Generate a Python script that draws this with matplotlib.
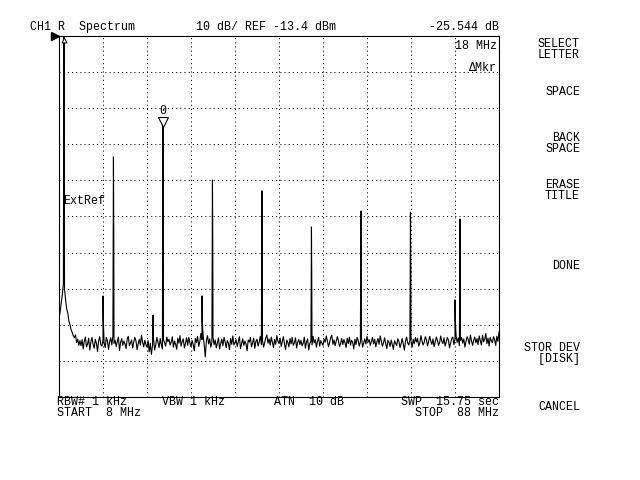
import numpy as np
import matplotlib.pyplot as plt

# sweep 8 - 88 MHz, trace floor (dBm), 0.2 MHz per point
floor_dbm = [
    -91.5, -89.8, -87.5, -85.0, -82.0, -83.5, -86.5, -89.0, -90.2, -92.3,
    -93.4, -94.8, -95.5, -96.4, -97.0, -96.2, -98.3, -97.4, -99.1, -97.8,
    -99.2, -97.5, -100.1, -98.0, -96.8, -99.5, -98.7, -97.1, -100.4, -98.2,
    -96.9, -98.8, -99.9, -97.4, -98.5, -100.8, -97.9, -96.7, -98.9, -99.3,
    -97.6, -98.4, -99.7, -96.9, -97.8, -100.2, -98.1, -97.0, -99.0, -96.5,
    -98.6, -97.7, -99.4, -98.0, -96.8, -100.5, -98.3, -97.2, -99.1, -97.9,
    -98.7, -100.0, -97.3, -96.6, -99.2, -98.4, -97.6, -99.8, -98.1, -96.9,
    -97.9, -100.3, -98.6, -97.4, -99.0, -96.3, -98.2, -99.5, -97.7, -98.9,
    -99.6, -97.8, -100.9, -98.5, -101.6, -99.2, -97.5, -100.4, -98.8, -96.9,
    -98.3, -99.7, -97.2, -98.9, -100.1, -97.6, -98.4, -99.3, -96.8, -98.1,
    -97.4, -99.0, -98.2, -96.7, -99.6, -97.9, -98.8, -100.2, -97.1, -98.5,
    -96.4, -99.3, -98.0, -97.3, -99.8, -98.6, -97.0, -99.1, -96.9, -98.4,
    -99.5, -97.7, -98.9, -100.6, -97.2, -98.3, -96.6, -99.4, -98.1, -95.8,
    -97.5, -96.2, -99.0, -102.3, -97.8, -96.4, -98.7, -97.3, -99.6, -98.2,
    -96.8, -98.9, -97.6, -99.8, -98.4, -97.0, -100.1, -98.6, -97.4, -99.2,
    -96.9, -98.1, -99.7, -97.8, -98.5, -100.3, -97.2, -98.8, -96.5, -99.0,
    -98.3, -97.5, -99.4, -98.0, -96.7, -100.0, -98.6, -97.3, -99.1, -97.9,
    -98.7, -100.6, -97.6, -98.2, -96.9, -99.5, -98.4, -97.1, -99.9, -98.0,
    -97.4, -99.3, -98.1, -96.6, -98.9, -97.8, -99.6, -98.3, -97.0, -96.2,
    -98.5, -97.3, -99.0, -96.8, -98.2, -99.7, -97.5, -98.8, -96.4, -97.9,
    -98.6, -97.1, -99.4, -98.0, -96.7, -98.9, -100.2, -97.6, -98.3, -99.5,
    -97.2, -98.7, -96.9, -99.1, -98.4, -97.0, -99.8, -98.2, -97.5, -98.9,
    -97.7, -99.2, -98.5, -96.8, -99.9, -98.1, -97.3, -100.4, -98.6, -97.9,
    -99.0, -96.6, -98.4, -97.5, -99.6, -98.0, -96.9, -99.3, -97.8, -98.5,
    -99.1, -97.4, -98.2, -96.5, -97.9, -99.5, -98.3, -97.0, -96.3, -98.8,
    -97.6, -99.2, -98.0, -96.7, -97.8, -99.4, -98.6, -97.2, -98.9, -97.5,
    -98.4, -99.7, -97.1, -98.6, -96.8, -99.0, -97.7, -98.3, -100.1, -97.4,
    -98.9, -96.9, -97.8, -99.3, -98.1, -97.0, -99.6, -98.5, -97.3, -98.7,
    -96.6, -98.2, -97.5, -99.1, -98.0, -96.9, -98.7, -97.4, -99.5, -98.1,
    -97.2, -98.8, -96.5, -97.9, -99.3, -98.4, -97.0, -98.6, -100.0, -97.7,
    -98.3, -99.4, -97.6, -98.9, -100.2, -97.8, -98.5, -99.1, -97.3, -98.0,
    -99.7, -98.6, -97.2, -98.8, -100.4, -97.9, -96.8, -98.4, -99.0, -97.5,
    -98.1, -99.6, -97.4, -98.7, -96.9, -98.2, -97.1, -99.3, -98.5, -96.4,
    -97.8, -99.0, -98.3, -96.7, -97.5, -99.2, -98.0, -96.6, -97.9, -98.8,
    -97.3, -99.5, -98.1, -96.8, -97.7, -99.1, -98.4, -96.5, -97.9, -98.6,
    -97.0, -99.3, -98.2, -96.9, -97.6, -99.8, -98.5, -97.2, -96.8, -98.9,
    -97.4, -96.6, -98.3, -97.0, -99.2, -97.8, -96.9, -98.5, -97.3, -99.6,
    -98.0, -96.7, -97.5, -98.8, -96.2, -97.9, -99.1, -97.6, -96.8, -98.4,
    -97.2, -98.9, -96.5, -97.7, -99.0, -96.3, -98.1, -97.4, -95.8, -98.6,
    -97.1, -99.3, -96.9, -97.8, -98.4, -96.7, -97.5, -99.1, -96.6, -98.0,
    -95.4,
]

# 9 MHz comb: peak level plus the two points either side of it
pk_freq = np.array([8.9, 17.9, 26.9, 35.9, 44.9, 53.9, 62.9, 71.9, 80.9])
pk_level = np.array([-12.8, -46.9, -38.3, -53.3, -56.3, -66.3, -61.9, -62.2, -64.1])
pk_left = np.array([-46.9, -78.0, -67.7, -80.0, -76.8, -88.0, -85.0, -86.0, -87.0])
pk_right = np.array([-38.6, -69.1, -59.1, -71.6, -74.3, -82.4, -77.9, -77.7, -79.9])

# small spurs
sp_freq = np.array([16.0, 25.1, 34.0, 80.0])
sp_level = np.array([-85.4, -90.7, -85.4, -86.5])
sp_shoulder = np.array([-92.0, -96.0, -92.5, -92.1])

ref_dbm = -13.4
mkr_freq = 26.9

freq = np.linspace(8, 88, len(floor_dbm))
f_all = np.concatenate([freq, pk_freq - 0.06, pk_freq, pk_freq + 0.06, sp_freq, sp_freq + 0.05])
l_all = np.concatenate([floor_dbm, pk_left, pk_level, pk_right, sp_level, sp_shoulder])
order = np.argsort(f_all, kind='stable')

plt.rcParams['font.family'] = ['Liberation Mono', 'DejaVu Sans Mono']
fs = 8.4

fig = plt.figure(figsize=(6.4, 4.8), dpi=100)
ax = fig.add_axes([59 / 640, 1 - 397 / 480, 440 / 640, 361 / 480])
ax.plot(f_all[order], l_all[order], color='black', lw=0.8, zorder=3)

ax.set_xlim(8, 88)
ax.set_ylim(ref_dbm - 100, ref_dbm)
ax.set_xticks(np.arange(16, 88, 8))
ax.set_yticks(ref_dbm - np.arange(10, 100, 10))
ax.grid(True, color='black', lw=0.75, linestyle=(0, (1, 3)))
ax.tick_params(length=0, labelbottom=False, labelleft=False)
for s in ax.spines.values():
    s.set_linewidth(0.8)

# markers
ax.plot(mkr_freq, -37.1, marker='v', ms=6.5, mfc='white', mec='black', mew=0.8, zorder=5)
ax.text(mkr_freq, -34.2, '0', ha='center', va='center', fontsize=fs)
ax.plot(8.9, -14.4, marker='^', ms=3.5, mfc='white', mec='black', mew=0.7, zorder=5)
ax.plot(-0.008, 1.0, marker='>', ms=6, color='black', transform=ax.transAxes, clip_on=False)


def label(x, y, s, ha='left'):
    # y is the baseline of the last line, in pixels from the top
    fig.text(x / 640, 1 - y / 480, s, ha=ha, va='baseline', fontsize=fs,
             multialignment=ha, linespacing=0.88)


label(30, 30, 'CH1 R  Spectrum')
label(196, 30, '10 dB/ REF -13.4 dBm')
label(499, 30, '-25.544 dB', 'right')
label(497, 49, '18 MHz', 'right')
label(497, 71, '\u0394Mkr', 'right')
label(63, 204, 'ExtRef')

label(57, 416, 'RBW# 1 kHz     VBW 1 kHz       ATN  10 dB\nSTART  8 MHz')
label(499, 416, 'SWP  15.75 sec\nSTOP  88 MHz', 'right')

menu = [('SELECT\nLETTER', 58), ('SPACE', 95), ('BACK\nSPACE', 152),
        ('ERASE\nTITLE', 199), ('DONE', 269), ('STOR DEV\n  [DISK]', 362), ('CANCEL', 410)]
for s, y in menu:
    label(580, y, s, 'right')

fig.savefig('out.png', dpi=100, facecolor='white')
